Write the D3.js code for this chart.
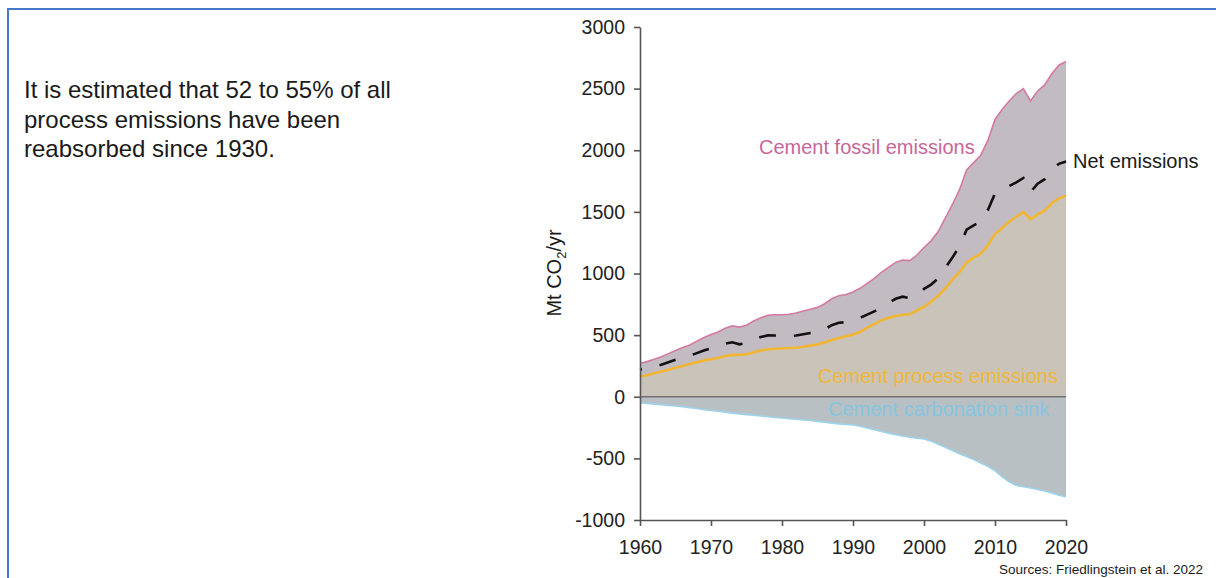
<!DOCTYPE html>
<html>
<head>
<meta charset="utf-8">
<script src="https://cdn.jsdelivr.net/npm/d3@7"></script>
<style>
  html, body { margin: 0; padding: 0; background: #fff; }
  svg { display: block; font-family: "Liberation Sans", Arial, Helvetica, sans-serif; }
</style>
</head>
<body>
<svg id="chart" width="1216" height="578"></svg>
<script>
// ---- Data ----
const years = d3.range(1960, 2021);
const fossilEmissions = [
  270, 285, 305, 325, 350, 375, 400, 420, 450, 480,
  505, 525, 555, 575, 565, 580, 615, 640, 660, 665,
  665, 670, 680, 695, 710, 725, 755, 795, 820, 830,
  850, 880, 920, 960, 1010, 1050, 1090, 1110, 1105, 1150,
  1210, 1265, 1340, 1450, 1560, 1680, 1840, 1900, 1960, 2080,
  2250, 2330, 2400, 2460, 2500, 2400, 2480, 2530, 2620, 2690,
  2720
];
const processEmissions = [
  165, 175, 190, 205, 220, 235, 250, 265, 280, 295,
  305, 315, 330, 340, 340, 345, 360, 375, 385, 390,
  392, 395, 398, 405, 415, 425, 440, 460, 475, 490,
  505, 525, 560, 590, 620, 640, 655, 665, 670, 700,
  730, 770, 820, 880, 950, 1010, 1090, 1130, 1160, 1230,
  1320, 1370, 1420, 1460, 1500, 1440, 1480, 1510, 1570, 1610,
  1630
];
const carbonationSink = [
  -50, -55, -60, -65, -70, -75, -80, -88, -96, -105,
  -112, -118, -125, -133, -140, -145, -150, -156, -162, -168,
  -173, -178, -183, -188, -193, -200, -207, -214, -220, -225,
  -228, -240, -254, -268, -282, -295, -308, -318, -328, -336,
  -342, -360, -385, -410, -436, -462, -484, -510, -538, -565,
  -600, -650, -690, -720, -730, -740, -752, -765, -780, -800,
  -812
];
const netEmissions = [
  220, 230, 245, 260, 280, 300, 320, 332, 354, 375,
  393, 407, 430, 442, 425, 435, 465, 484, 498, 497,
  492, 492, 497, 507, 517, 525, 548, 581, 600, 605,
  622, 640, 666, 692, 728, 760, 795, 812, 800, 825,
  875, 910, 960, 1045, 1130, 1220, 1356, 1390, 1422, 1515,
  1650, 1680, 1710, 1740, 1775, 1660, 1728, 1765, 1840, 1890,
  1908
];
const yTicks = [-1000, -500, 0, 500, 1000, 1500, 2000, 2500, 3000];
const xTicks = [1960, 1970, 1980, 1990, 2000, 2010, 2020];
const noteLines = [
  "It is estimated that 52 to 55% of all",
  "process emissions have been",
  "reabsorbed since 1930."
];
const seriesLabels = {
  fossil: "Cement fossil emissions",
  net: "Net emissions",
  process: "Cement process emissions",
  sink: "Cement carbonation sink"
};
const sourceText = "Sources: Friedlingstein et al. 2022";

// ---- Drawing ----
const svg = d3.select("#chart");
const rows = years.map((yr, i) => ({
  year: yr,
  fossil: fossilEmissions[i],
  process: processEmissions[i],
  sink: carbonationSink[i],
  net: netEmissions[i]
}));

const x = d3.scaleLinear().domain([1960, 2020]).range([640, 1066]);
const y = d3.scaleLinear().domain([-1000, 3000]).range([520, 27]);

// frame border (top and left visible)
svg.append("rect")
  .attr("x", 8).attr("y", 9).attr("width", 1400).attr("height", 800)
  .attr("fill", "none").attr("stroke", "#4a78c8").attr("stroke-width", 2);

// left note
const note = svg.append("text")
  .attr("font-size", 24).attr("fill", "#1a1a1a");
noteLines.forEach((t, i) => {
  note.append("tspan").attr("x", 24).attr("y", 98 + i * 29.5).text(t);
});

// areas
svg.append("path").datum(rows)
  .attr("fill", "#c2bbc1")
  .attr("d", d3.area().x(d => x(d.year)).y0(d => y(d.process)).y1(d => y(d.fossil)));
svg.append("path").datum(rows)
  .attr("fill", "#c9c3b9")
  .attr("d", d3.area().x(d => x(d.year)).y0(y(0)).y1(d => y(d.process)));
svg.append("path").datum(rows)
  .attr("fill", "#b8c0c4")
  .attr("d", d3.area().x(d => x(d.year)).y0(y(0)).y1(d => y(d.sink)));

// zero line
svg.append("line")
  .attr("x1", x(1960)).attr("x2", x(2020))
  .attr("y1", y(0)).attr("y2", y(0))
  .attr("stroke", "#707070").attr("stroke-width", 1.5);

// series lines
const lineOf = key => d3.line().x(d => x(d.year)).y(d => y(d[key]));
svg.append("path").datum(rows)
  .attr("fill", "none").attr("stroke", "#d47aa3").attr("stroke-width", 1.6)
  .attr("d", lineOf("fossil"));
svg.append("path").datum(rows)
  .attr("fill", "none").attr("stroke", "#f2b632").attr("stroke-width", 2.6)
  .attr("d", lineOf("process"));
svg.append("path").datum(rows)
  .attr("fill", "none").attr("stroke", "#9dd3ea").attr("stroke-width", 1.6)
  .attr("d", lineOf("sink"));
svg.append("path").datum(rows)
  .attr("fill", "none").attr("stroke", "#111").attr("stroke-width", 2.6)
  .attr("stroke-dasharray", "17,18").attr("stroke-dashoffset", 15)
  .attr("d", lineOf("net"));

// axes
const fmt = d => String(d);
const yAxis = svg.append("g")
  .attr("transform", `translate(${x(1960)},0)`)
  .call(d3.axisLeft(y).tickValues(yTicks).tickSize(6).tickSizeOuter(0).tickPadding(9).tickFormat(fmt));
const xAxis = svg.append("g")
  .attr("transform", `translate(0,${y(-1000)})`)
  .call(d3.axisBottom(x).tickValues(xTicks).tickSize(6).tickSizeOuter(0).tickPadding(14).tickFormat(fmt));
[yAxis, xAxis].forEach(g => {
  g.select(".domain").attr("stroke", "#555").attr("stroke-width", 1.6);
  g.selectAll(".tick line").attr("stroke", "#555").attr("stroke-width", 1.6);
  g.selectAll(".tick text").attr("font-size", 19.5).attr("fill", "#222")
    .attr("font-family", "Liberation Sans, Arial, sans-serif");
});

// y-axis title
const yTitle = svg.append("text")
  .attr("transform", "translate(561,273) rotate(-90)")
  .attr("text-anchor", "middle").attr("font-size", 20).attr("fill", "#1a1a1a");
yTitle.append("tspan").text("Mt CO");
yTitle.append("tspan").attr("font-size", 13).attr("dy", 5).text("2");
yTitle.append("tspan").attr("dy", -5).text("/yr");

// series labels
svg.append("text").attr("x", 759).attr("y", 154).attr("font-size", 20)
  .attr("fill", "#c8659a").text(seriesLabels.fossil);
svg.append("text").attr("x", 1073).attr("y", 168).attr("font-size", 20)
  .attr("fill", "#1a1a1a").text(seriesLabels.net);
svg.append("text").attr("x", 1058).attr("y", 383).attr("font-size", 20)
  .attr("text-anchor", "end").attr("fill", "#f0b83a").text(seriesLabels.process);
svg.append("text").attr("x", 828).attr("y", 416).attr("font-size", 20)
  .attr("fill", "#86c6e0").text(seriesLabels.sink);

// source
svg.append("text").attr("x", 1203).attr("y", 574).attr("font-size", 13.5)
  .attr("text-anchor", "end").attr("fill", "#1a1a1a").text(sourceText);
</script>
</body>
</html>
